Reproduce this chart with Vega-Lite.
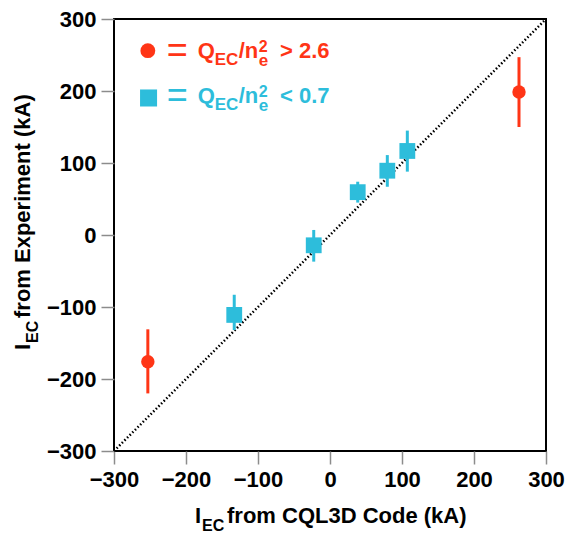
{
 "$schema": "https://vega.github.io/schema/vega-lite/v6.json",
 "width": 432, "height": 432,
 "autosize": {"type": "none"},
 "padding": {"left": 114, "top": 19, "right": 21, "bottom": 85},
 "background": "white",
 "config": {
  "view": {"stroke": "black", "strokeWidth": 2},
  "axis": {"grid": false, "domain": false, "labelFont": "Liberation Sans", "labelFontWeight": "bold", "labelFontSize": 22, "labelColor": "black", "tickColor": "#8c8c8c", "tickWidth": 1.5, "tickSize": 13, "labelPadding": 5, "labelOverlap": false, "labelFlush": false, "title": null},
  "text": {"font": "Liberation Sans", "fontWeight": "bold"}
 },
 "datasets": {
  "points": [
   {"group": "high", "x": -253, "y": -176, "ylo": -220, "yhi": -131},
   {"group": "high", "x": 262.5, "y": 198.5, "ylo": 150, "yhi": 247},
   {"group": "low", "x": -133, "y": -111, "ylo": -132, "yhi": -83},
   {"group": "low", "x": -22.6, "y": -14.3, "ylo": -37, "yhi": 7},
   {"group": "low", "x": 38.5, "y": 59.5, "ylo": 45, "yhi": 74},
   {"group": "low", "x": 79.6, "y": 89.3, "ylo": 67, "yhi": 111},
   {"group": "low", "x": 107.4, "y": 116.7, "ylo": 88, "yhi": 145}
  ]
 },
 "layer": [
  {"data": {"values": [{}]},
   "mark": {"type": "rule", "strokeDash": [1.5, 2.2], "strokeWidth": 2.5, "color": "black"},
   "encoding": {
    "x": {"datum": -300, "type": "quantitative", "scale": {"domain": [-300, 300], "nice": false, "zero": false}, "axis": {"values": [-300, -200, -100, 0, 100, 200, 300]}},
    "y": {"datum": -300, "type": "quantitative", "scale": {"domain": [-300, 300], "nice": false, "zero": false}, "axis": {"values": [-300, -200, -100, 0, 100, 200, 300]}},
    "x2": {"datum": 300}, "y2": {"datum": 300}}},
  {"data": {"name": "points"},
   "mark": {"type": "rule", "strokeWidth": 3},
   "encoding": {
    "x": {"field": "x", "type": "quantitative"},
    "y": {"field": "ylo", "type": "quantitative"},
    "y2": {"field": "yhi"},
    "color": {"field": "group", "type": "nominal", "scale": {"domain": ["high", "low"], "range": ["#ff3516", "#2dbddb"]}, "legend": null}}},
  {"data": {"name": "points"},
   "mark": {"type": "point", "filled": true, "opacity": 1},
   "encoding": {
    "x": {"field": "x", "type": "quantitative"},
    "y": {"field": "y", "type": "quantitative"},
    "color": {"field": "group", "type": "nominal", "legend": null},
    "shape": {"field": "group", "type": "nominal", "scale": {"domain": ["high", "low"], "range": ["circle", "square"]}, "legend": null},
    "size": {"field": "group", "type": "nominal", "scale": {"domain": ["high", "low"], "range": [180, 250]}, "legend": null}}},
  {"data": {"values": [{}]}, "mark": {"type": "point", "filled": true, "opacity": 1, "shape": "circle", "size": 220, "color": "#ff3516"},
   "encoding": {"x": {"datum": -253}, "y": {"datum": 256}}},
  {"data": {"values": [{}]}, "mark": {"type": "point", "filled": true, "opacity": 1, "shape": "square", "size": 290, "color": "#2dbddb"},
   "encoding": {"x": {"datum": -252}, "y": {"datum": 190.3}}},

  {"data": {"values": [{}]}, "mark": {"type": "text", "text": "=", "fontWeight": "normal", "align": "left", "baseline": "alphabetic", "fontSize": 36, "dy": 4, "color": "#ff3516"}, "encoding": {"x": {"datum": -226.8}, "y": {"datum": 245.4}}},
  {"data": {"values": [{}]}, "mark": {"type": "text", "text": "Q", "align": "left", "baseline": "alphabetic", "fontSize": 22, "dx": 31, "color": "#ff3516"}, "encoding": {"x": {"datum": -226.8}, "y": {"datum": 245.4}}},
  {"data": {"values": [{}]}, "mark": {"type": "text", "text": "EC", "align": "left", "baseline": "alphabetic", "fontSize": 17, "dx": 48, "dy": 6.5, "color": "#ff3516"}, "encoding": {"x": {"datum": -226.8}, "y": {"datum": 245.4}}},
  {"data": {"values": [{}]}, "mark": {"type": "text", "text": "/n", "align": "left", "baseline": "alphabetic", "fontSize": 22, "dx": 72, "color": "#ff3516"}, "encoding": {"x": {"datum": -226.8}, "y": {"datum": 245.4}}},
  {"data": {"values": [{}]}, "mark": {"type": "text", "text": "e", "align": "left", "baseline": "alphabetic", "fontSize": 17, "dx": 92, "dy": 7.5, "color": "#ff3516"}, "encoding": {"x": {"datum": -226.8}, "y": {"datum": 245.4}}},
  {"data": {"values": [{}]}, "mark": {"type": "text", "text": "2", "align": "left", "baseline": "alphabetic", "fontSize": 16, "dx": 92, "dy": -6, "color": "#ff3516"}, "encoding": {"x": {"datum": -226.8}, "y": {"datum": 245.4}}},
  {"data": {"values": [{}]}, "mark": {"type": "text", "text": "> 2.6", "align": "left", "baseline": "alphabetic", "fontSize": 22, "dx": 113.3, "color": "#ff3516"}, "encoding": {"x": {"datum": -226.8}, "y": {"datum": 245.4}}},

  {"data": {"values": [{}]}, "mark": {"type": "text", "text": "=", "fontWeight": "normal", "align": "left", "baseline": "alphabetic", "fontSize": 36, "dy": 4, "color": "#2dbddb"}, "encoding": {"x": {"datum": -226.8}, "y": {"datum": 182.9}}},
  {"data": {"values": [{}]}, "mark": {"type": "text", "text": "Q", "align": "left", "baseline": "alphabetic", "fontSize": 22, "dx": 31, "color": "#2dbddb"}, "encoding": {"x": {"datum": -226.8}, "y": {"datum": 182.9}}},
  {"data": {"values": [{}]}, "mark": {"type": "text", "text": "EC", "align": "left", "baseline": "alphabetic", "fontSize": 17, "dx": 48, "dy": 6.5, "color": "#2dbddb"}, "encoding": {"x": {"datum": -226.8}, "y": {"datum": 182.9}}},
  {"data": {"values": [{}]}, "mark": {"type": "text", "text": "/n", "align": "left", "baseline": "alphabetic", "fontSize": 22, "dx": 72, "color": "#2dbddb"}, "encoding": {"x": {"datum": -226.8}, "y": {"datum": 182.9}}},
  {"data": {"values": [{}]}, "mark": {"type": "text", "text": "e", "align": "left", "baseline": "alphabetic", "fontSize": 17, "dx": 92, "dy": 7.5, "color": "#2dbddb"}, "encoding": {"x": {"datum": -226.8}, "y": {"datum": 182.9}}},
  {"data": {"values": [{}]}, "mark": {"type": "text", "text": "2", "align": "left", "baseline": "alphabetic", "fontSize": 16, "dx": 92, "dy": -6, "color": "#2dbddb"}, "encoding": {"x": {"datum": -226.8}, "y": {"datum": 182.9}}},
  {"data": {"values": [{}]}, "mark": {"type": "text", "text": "< 0.7", "align": "left", "baseline": "alphabetic", "fontSize": 22, "dx": 113.3, "color": "#2dbddb"}, "encoding": {"x": {"datum": -226.8}, "y": {"datum": 182.9}}},

  {"data": {"values": [{}]}, "mark": {"type": "text", "text": "I", "align": "left", "baseline": "alphabetic", "fontSize": 22, "dy": 72, "color": "black"}, "encoding": {"x": {"datum": -187.5}, "y": {"datum": -300}}},
  {"data": {"values": [{}]}, "mark": {"type": "text", "text": "EC", "align": "left", "baseline": "alphabetic", "fontSize": 16, "dx": 7, "dy": 80, "color": "black"}, "encoding": {"x": {"datum": -187.5}, "y": {"datum": -300}}},
  {"data": {"values": [{}]}, "mark": {"type": "text", "text": "from CQL3D Code (kA)", "align": "left", "baseline": "alphabetic", "fontSize": 22, "dx": 32, "dy": 72, "color": "black"}, "encoding": {"x": {"datum": -187.5}, "y": {"datum": -300}}},

  {"data": {"values": [{}]}, "mark": {"type": "text", "text": "I", "angle": 270, "align": "left", "baseline": "alphabetic", "fontSize": 22, "dx": 0, "dy": -84, "color": "black"}, "encoding": {"x": {"datum": -300}, "y": {"datum": -159.7}}},
  {"data": {"values": [{}]}, "mark": {"type": "text", "text": "EC", "angle": 270, "align": "left", "baseline": "alphabetic", "fontSize": 16, "dx": 7, "dy": -76, "color": "black"}, "encoding": {"x": {"datum": -300}, "y": {"datum": -159.7}}},
  {"data": {"values": [{}]}, "mark": {"type": "text", "text": "from Experiment (kA)", "angle": 270, "align": "left", "baseline": "alphabetic", "fontSize": 22, "dx": 32, "dy": -84, "color": "black"}, "encoding": {"x": {"datum": -300}, "y": {"datum": -159.7}}}
 ]
}
